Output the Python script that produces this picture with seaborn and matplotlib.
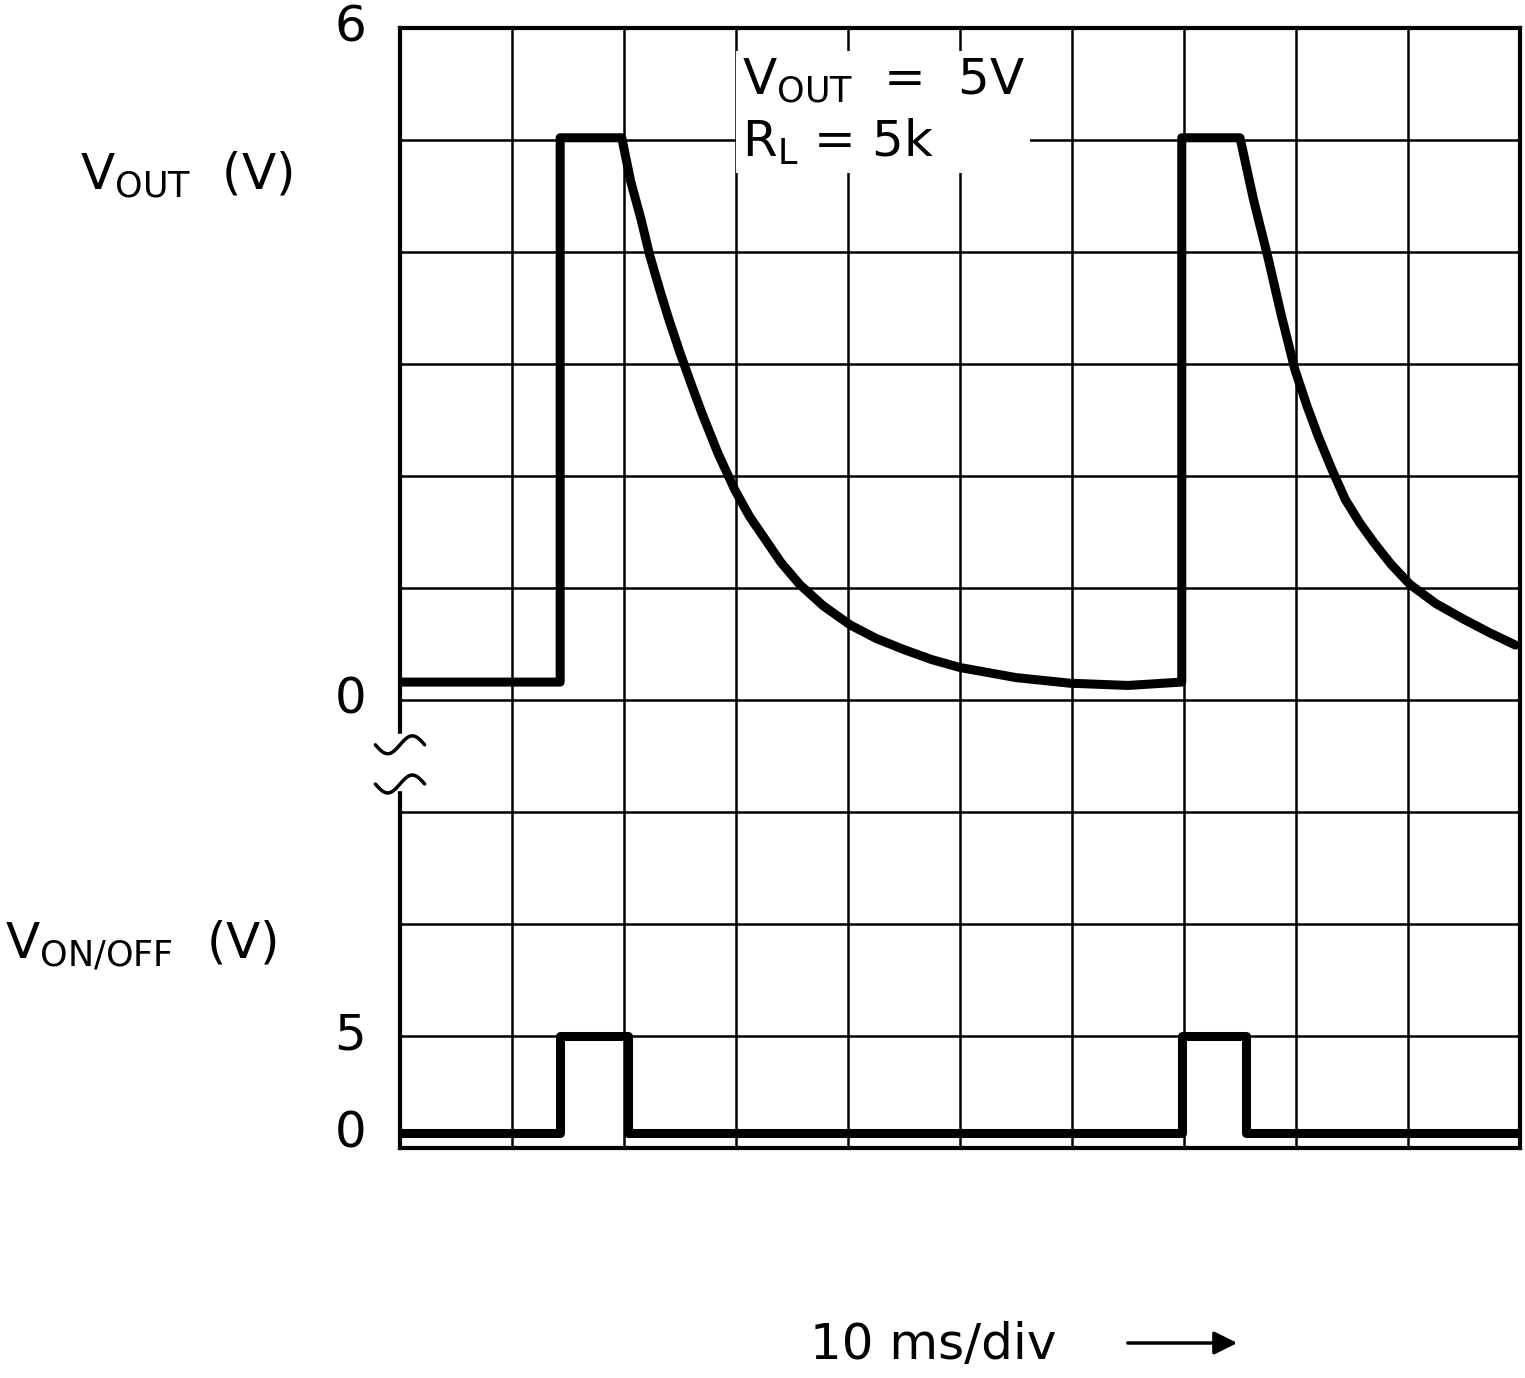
import numpy as np
import pandas as pd
import seaborn as sns
import matplotlib.pyplot as plt

# time in ms (10 ms/div), voltages in V
vout_t = [0, 14.3, 14.3, 19.8, 20.6, 21.5, 22.3, 23.2, 24.0, 25.0, 26.0, 27.0, 28.4, 29.9, 31.2, 32.5,
          34.0, 35.7, 37.8, 40.2, 42.5, 45.0, 47.5, 50.0, 55.0, 59.8, 65.0, 69.8,
          69.8, 75.0, 76.2, 77.5, 78.7, 79.9, 81.0, 82.0, 83.2, 84.4, 85.7, 87.0, 88.5, 90.2,
          92.5, 95.0, 97.3, 99.6]
vout_v = [0.16, 0.16, 5.02, 5.02, 4.63, 4.30, 3.97, 3.66, 3.40, 3.10, 2.82, 2.55, 2.20, 1.875, 1.64, 1.45,
          1.23, 1.03, 0.84, 0.67, 0.55, 0.45, 0.36, 0.29, 0.20, 0.15, 0.13, 0.16,
          5.02, 5.02, 4.47, 3.95, 3.43, 2.95, 2.62, 2.35, 2.06, 1.79, 1.58, 1.40, 1.21, 1.03,
          0.86, 0.72, 0.60, 0.49]
von_t = [0, 14.3, 14.3, 20.4, 20.4, 69.8, 69.8, 75.5, 75.5, 100]
von_v = [0, 0, 5, 5, 0, 0, 5, 5, 0, 0]

# screen positions in divisions
df1 = pd.DataFrame({"t": vout_t, "y": [4 + v for v in vout_v]})
df2 = pd.DataFrame({"t": von_t, "y": [0.13 + v * 0.174 for v in von_v]})

sns.set_style("white")
plt.rcParams['font.family'] = ['DejaVu Sans']
plt.rcParams['text.color'] = 'black'
fig = plt.figure(figsize=(15.25, 13.78), dpi=100)
ax = fig.add_axes([400/1525, 230/1378, 1120/1525, 1120/1378])

sns.lineplot(data=df1, x="t", y="y", sort=False, estimator=None, color="black", lw=6.5, ax=ax)
sns.lineplot(data=df2, x="t", y="y", sort=False, estimator=None, color="black", lw=6.5, ax=ax)

ax.set_xlim(0, 100)
ax.set_ylim(0, 10)
ax.set_xticks(np.arange(0, 101, 10))
ax.set_yticks(np.arange(0, 11, 1))
ax.grid(True, color="black", lw=1.8)
ax.tick_params(length=0, labelleft=False, labelbottom=False)
for s in ax.spines.values():
    s.set_linewidth(3)
    s.set_color("black")
ax.set_xlabel("")
ax.set_ylabel("")

fs = 36
tr = ax.get_yaxis_transform()
for y, lab in [(10, "6"), (4, "0"), (1.0, "5"), (0.13, "0")]:
    ax.text(-0.03, y, lab, transform=tr, ha="right", va="center", fontsize=fs, color="black")

# axis break
ax.add_patch(plt.Rectangle((-0.01, 3.2), 0.02, 0.5, transform=tr, color="white", clip_on=False, zorder=5))
ss = np.linspace(0, 1, 30)
for y0 in [3.6, 3.25]:
    ax.plot(-0.022 + 0.044 * ss, y0 + 0.08 * np.sin(ss * 2 * np.pi) * -1, transform=tr,
            color="black", lw=2.5, clip_on=False, zorder=6)

ax.text(0.305, 0.925, r"$\mathregular{V_{OUT}}$  =  5V" + "\n" + r"$\mathregular{R_L}$ = 5k",
        transform=ax.transAxes, fontsize=fs, va="center", ha="left", linespacing=1.3, color="black",
        bbox=dict(facecolor="white", edgecolor="none", pad=4), zorder=7)

fig.text(80/1525, 1 - 175/1378, r"$\mathregular{V_{OUT}}$  (V)", fontsize=fs, va="center", color="black")
fig.text(5/1525, 1 - 945/1378, r"$\mathregular{V_{ON/OFF}}$  (V)", fontsize=fs, va="center", color="black")
fig.text(810/1525, 1 - 1345/1378, "10 ms/div", fontsize=fs, va="center", color="black")
fig.add_artist(plt.Annotation("", xy=(1240/1525, 1 - 1343/1378), xytext=(1125/1525, 1 - 1343/1378),
                              xycoords="figure fraction",
                              arrowprops=dict(arrowstyle="-|>", color="black", lw=2.5, mutation_scale=35)))

plt.savefig("out.png", dpi=100)
